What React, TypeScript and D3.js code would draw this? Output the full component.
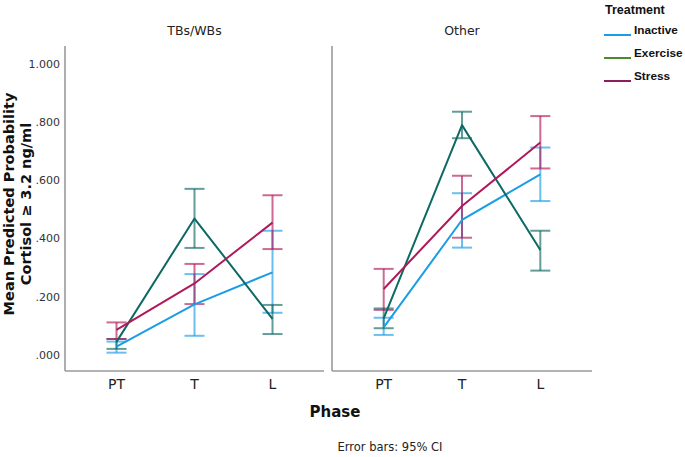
import React from "react";
import * as d3 from "d3";

const panels = ["TBs/WBs", "Other"];
const phases = ["PT", "T", "L"];
const treatments = ["Inactive", "Exercise", "Stress"];
const lineColors = ["#1a9de6", "#0e6964", "#b0195a"];
const legendColors = ["#1a9de6", "#4b8a2f", "#8c1f5a"];
const yTicks = [0, 0.2, 0.4, 0.6, 0.8, 1.0];

// [panel][treatment][phase]
const means = [
  [
    [0.029, 0.174, 0.284],
    [0.045, 0.469, 0.124],
    [0.086, 0.246, 0.455],
  ],
  [
    [0.095, 0.464, 0.621],
    [0.126, 0.79, 0.361],
    [0.227, 0.512, 0.73],
  ],
];
const lower = [
  [
    [0.008, 0.066, 0.145],
    [0.021, 0.368, 0.072],
    [0.055, 0.175, 0.364],
  ],
  [
    [0.069, 0.369, 0.529],
    [0.092, 0.745, 0.29],
    [0.155, 0.403, 0.641],
  ],
];
const upper = [
  [
    [0.046, 0.278, 0.427],
    [0.055, 0.571, 0.172],
    [0.112, 0.313, 0.549],
  ],
  [
    [0.128, 0.556, 0.713],
    [0.16, 0.836, 0.427],
    [0.296, 0.616, 0.821],
  ],
];

const font = "'DejaVu Sans', 'Open Sans', sans-serif";
const legendFont = "'Liberation Sans', Arial, sans-serif";

export default function App() {
  const W = 685;
  const H = 457;
  const top = 46;
  const bottom = 371;
  const panelX = [
    [65, 324],
    [332, 592],
  ];
  const y = d3.scaleLinear().domain([0, 1]).range([355, 64]);
  const fmt = (v: number) => (v === 1 ? "1.000" : d3.format(".3f")(v).replace(/^0/, ""));

  return (
    <svg
      width={W}
      height={H}
      style={{ position: "absolute", left: 0, top: 0, background: "#fff" }}
      fontFamily={font}
    >
      {/* y tick labels */}
      {yTicks.map((t) => (
        <text key={t} x={60} y={y(t)} dy="0.35em" textAnchor="end" fontSize={11} fill="#333">
          {fmt(t)}
        </text>
      ))}
      {/* y axis title */}
      <g transform={`translate(9, 204) rotate(-90)`}>
        <text textAnchor="middle" fontSize={14.5} fontWeight="bold" fill="#111">
          <tspan x={0} dy="0.35em">Mean Predicted Probability</tspan>
          <tspan x={0} dy="1.15em">Cortisol ≥ 3.2 ng/ml</tspan>
        </text>
      </g>
      {panels.map((p, pi) => {
        const [x0, x1] = panelX[pi];
        const x = d3.scalePoint<string>().domain(phases).range([x0, x1]).padding(0.66);
        const line = d3
          .line<number>()
          .x((_, i) => x(phases[i]) as number)
          .y((d) => y(d));
        return (
          <g key={p}>
            <text x={(x0 + x1) / 2} y={35} textAnchor="middle" fontSize={12.5} fill="#222">
              {p}
            </text>
            <line x1={x0} x2={x0} y1={top} y2={bottom} stroke="#9a9a9a" strokeWidth={1.6} />
            <line x1={x0} x2={x1} y1={bottom} y2={bottom} stroke="#9a9a9a" strokeWidth={1.6} />
            {phases.map((ph) => (
              <text key={ph} x={x(ph)} y={384} dy="0.35em" textAnchor="middle" fontSize={14} fill="#222">
                {ph}
              </text>
            ))}
            {treatments.map((t, ti) => (
              <g key={t} stroke={lineColors[ti]}>
                {phases.map((ph, i) => {
                  const cx = x(ph) as number;
                  const lo = y(lower[pi][ti][i]);
                  const hi = y(upper[pi][ti][i]);
                  return (
                    <g key={ph} strokeOpacity={0.65} strokeWidth={2}>
                      <line x1={cx} x2={cx} y1={lo} y2={hi} />
                      <line x1={cx - 10} x2={cx + 10} y1={lo} y2={lo} />
                      <line x1={cx - 10} x2={cx + 10} y1={hi} y2={hi} />
                    </g>
                  );
                })}
              </g>
            ))}
            {treatments.map((t, ti) => (
              <path
                key={t}
                d={line(means[pi][ti]) || ""}
                fill="none"
                stroke={lineColors[ti]}
                strokeWidth={2}
                strokeLinejoin="round"
              />
            ))}
          </g>
        );
      })}
      {/* x axis title */}
      <text x={335} y={412} dy="0.35em" textAnchor="middle" fontSize={15} fontWeight="bold" fill="#111">
        Phase
      </text>
      <text x={390} y={447} dy="0.35em" textAnchor="middle" fontSize={11.5} fill="#222">
        Error bars: 95% CI
      </text>
      {/* legend */}
      <text x={605} y={10} dy="0.35em" fontSize={12.5} fontWeight="bold" fill="#111" fontFamily={legendFont}>
        Treatment
      </text>
      {treatments.map((t, i) => (
        <g key={t}>
          <line x1={604} x2={631} y1={35 + i * 23} y2={35 + i * 23} stroke={legendColors[i]} strokeWidth={2} />
          <text x={634} y={30 + i * 23} dy="0.35em" fontSize={11.8} fontWeight="bold" fill="#111" fontFamily={legendFont}>
            {t}
          </text>
        </g>
      ))}
    </svg>
  );
}
